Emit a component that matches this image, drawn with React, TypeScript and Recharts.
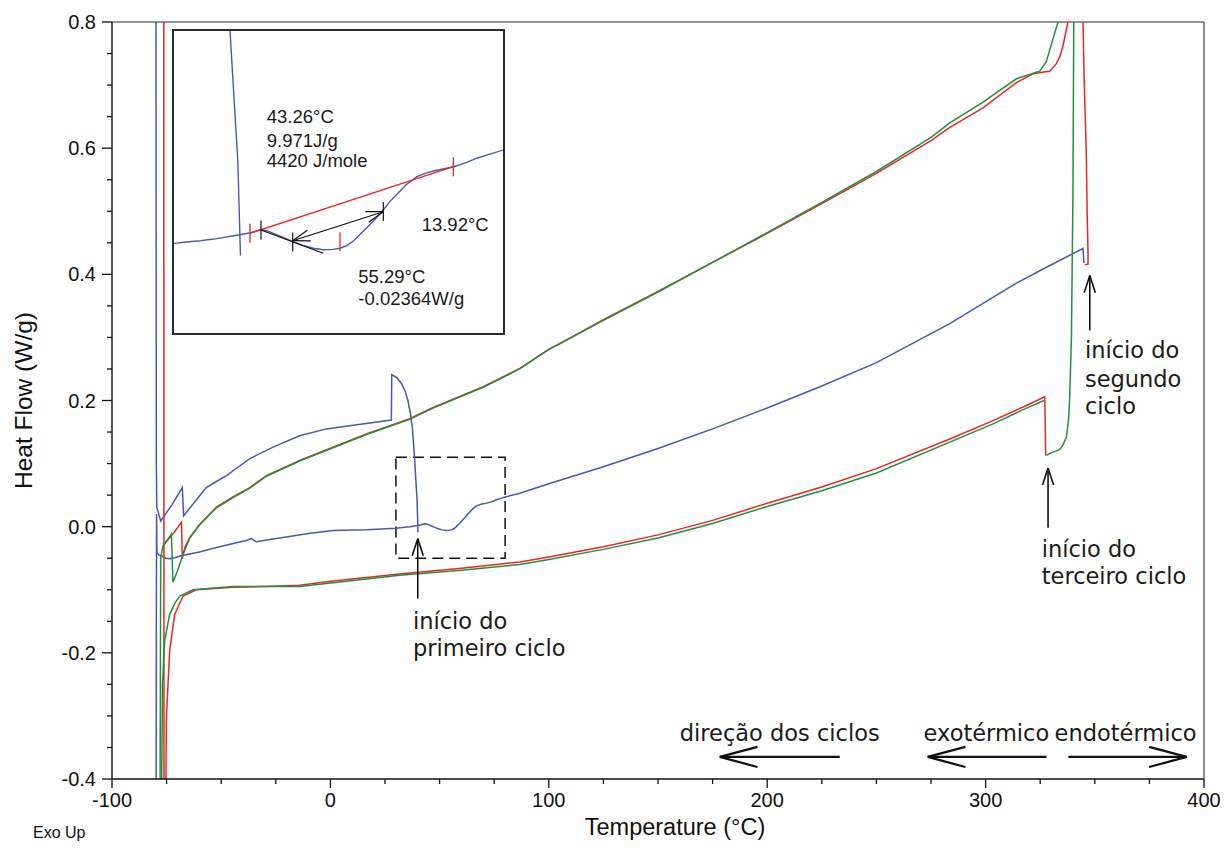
import React from 'react';
import { LineChart, Line, XAxis, YAxis, ReferenceLine, ReferenceArea, ReferenceDot, Label } from 'recharts';

const BLUE = '#4659b5';
const RED = '#ee2424';
const GREEN = '#23903c';
const SANS = '"Liberation Sans", Arial, sans-serif';
const NOTE_FONT = '"DejaVu Sans", Verdana, sans-serif';

const xTicks = [-100, -75, -50, -25, 0, 25, 50, 75, 100, 125, 150, 175, 200, 225, 250, 275, 300, 325, 350, 375, 400];
const xMajorTicks = [-100, 0, 100, 200, 300, 400];
const yTicks = [-0.4, -0.35, -0.3, -0.25, -0.2, -0.15, -0.1, -0.05, 0, 0.05, 0.1, 0.15, 0.2, 0.25, 0.3, 0.35, 0.4, 0.45, 0.5, 0.55, 0.6, 0.65, 0.7, 0.75, 0.8];
const yMajorTicks = [-0.4, -0.2, 0, 0.2, 0.4, 0.6, 0.8];

type P = { x: number; y: number };

// first cycle (blue): vertical at start, upper branch and its drop
const blueUpper: P[] = [
  { x: -79.9, y: 0.95 }, { x: -79.7, y: 0.1 }, { x: -79.5, y: 0.031 }, { x: -77.7, y: 0.009 },
  { x: -72.5, y: 0.035 }, { x: -67.8, y: 0.062 }, { x: -67.2, y: 0.017 }, { x: -62.0, y: 0.04 },
  { x: -56.8, y: 0.062 }, { x: -52.0, y: 0.072 }, { x: -47.6, y: 0.081 }, { x: -42.0, y: 0.095 },
  { x: -36.9, y: 0.108 }, { x: -26.3, y: 0.126 }, { x: -14.1, y: 0.144 }, { x: -1.8, y: 0.155 },
  { x: 8.8, y: 0.16 }, { x: 27.9, y: 0.169 }, { x: 28.1, y: 0.241 }, { x: 30.5, y: 0.236 },
  { x: 32.5, y: 0.227 }, { x: 34.2, y: 0.215 }, { x: 35.5, y: 0.2 }, { x: 36.6, y: 0.18 },
  { x: 37.5, y: 0.158 }, { x: 38.2, y: 0.125 }, { x: 38.6, y: 0.105 }, { x: 39.2, y: 0.07 },
  { x: 39.7, y: 0.041 }, { x: 40.1, y: -0.009 },
];

// first cycle (blue): lower branch
const blueLower: P[] = [
  { x: -79.8, y: -0.45 }, { x: -79.7, y: -0.15 }, { x: -79.6, y: 0.02 }, { x: -79.4, y: -0.04 },
  { x: -78.6, y: -0.045 }, { x: -77.4, y: -0.046 }, { x: -75.5, y: -0.05 }, { x: -73.6, y: -0.051 },
  { x: -71.0, y: -0.049 }, { x: -68.4, y: -0.046 }, { x: -60.0, y: -0.04 }, { x: -52.2, y: -0.033 },
  { x: -45.0, y: -0.027 }, { x: -38.5, y: -0.022 }, { x: -36.2, y: -0.019 }, { x: -33.9, y: -0.024 },
  { x: -27.0, y: -0.02 }, { x: -21.7, y: -0.017 }, { x: -10.0, y: -0.011 }, { x: 1.2, y: -0.006 },
  { x: 16.5, y: -0.005 }, { x: 30.0, y: -0.0025 }, { x: 31.9, y: -0.0018 }, { x: 34.0, y: -0.0011 },
  { x: 36.5, y: 0.0 }, { x: 39.8, y: 0.0019 }, { x: 41.6, y: 0.0031 }, { x: 43.1, y: 0.0046 },
  { x: 44.1, y: 0.0042 }, { x: 45.1, y: 0.0028 }, { x: 46.6, y: 0.0007 }, { x: 48.1, y: -0.0016 },
  { x: 49.7, y: -0.0037 }, { x: 51.2, y: -0.0051 }, { x: 52.7, y: -0.0059 }, { x: 54.2, y: -0.0057 },
  { x: 55.2, y: -0.0051 }, { x: 56.3, y: -0.0037 }, { x: 57.3, y: -0.0011 }, { x: 58.3, y: 0.0023 },
  { x: 59.3, y: 0.0058 }, { x: 60.3, y: 0.0093 }, { x: 61.8, y: 0.0152 }, { x: 62.8, y: 0.0196 },
  { x: 64.4, y: 0.0254 }, { x: 65.4, y: 0.0289 }, { x: 66.9, y: 0.0328 }, { x: 68.2, y: 0.0346 },
  { x: 69.4, y: 0.0358 }, { x: 70.9, y: 0.0369 }, { x: 72.5, y: 0.0381 }, { x: 74.5, y: 0.0404 },
  { x: 76.0, y: 0.0426 }, { x: 78.0, y: 0.0448 }, { x: 80.1, y: 0.047 }, { x: 86.7, y: 0.053 },
  { x: 100, y: 0.068 }, { x: 125, y: 0.095 }, { x: 150, y: 0.124 }, { x: 175, y: 0.155 },
  { x: 200, y: 0.188 }, { x: 225, y: 0.223 }, { x: 250, y: 0.26 }, { x: 283.6, y: 0.322 },
  { x: 314.1, y: 0.386 }, { x: 329.4, y: 0.414 }, { x: 344.6, y: 0.441 }, { x: 345.0, y: 0.418 },
];

// second cycle (red)
const redStart: P[] = [
  { x: 345.4, y: 0.415 }, { x: 346.9, y: 0.416 }, { x: 346.9, y: 0.432 }, { x: 346.5, y: 0.5 },
  { x: 346.1, y: 0.591 }, { x: 345.1, y: 0.713 }, { x: 344.6, y: 0.8 }, { x: 344.5, y: 0.9 },
];
const redUpper: P[] = [
  { x: 337.9, y: 0.9 }, { x: 337.7, y: 0.8 }, { x: 336.5, y: 0.78 }, { x: 335.4, y: 0.762 },
  { x: 334.0, y: 0.745 }, { x: 332.4, y: 0.734 }, { x: 329.4, y: 0.722 }, { x: 325.0, y: 0.72 },
  { x: 321.7, y: 0.718 }, { x: 314.1, y: 0.704 }, { x: 298.8, y: 0.664 }, { x: 283.6, y: 0.633 },
  { x: 275, y: 0.612 }, { x: 250, y: 0.56 }, { x: 225, y: 0.512 }, { x: 200, y: 0.465 },
  { x: 175, y: 0.419 }, { x: 150, y: 0.373 }, { x: 125, y: 0.328 }, { x: 105, y: 0.29 },
  { x: 100, y: 0.281 }, { x: 86.7, y: 0.251 }, { x: 70, y: 0.222 }, { x: 47, y: 0.189 },
  { x: 36.3, y: 0.171 }, { x: 16.5, y: 0.147 }, { x: 1.2, y: 0.126 }, { x: -14.1, y: 0.105 },
  { x: -29.3, y: 0.081 }, { x: -36.9, y: 0.062 }, { x: -44.6, y: 0.047 }, { x: -52.2, y: 0.031 },
  { x: -59.8, y: 0.004 }, { x: -64.4, y: -0.017 }, { x: -66.5, y: -0.032 }, { x: -67.5, y: -0.045 },
  { x: -67.8, y: -0.051 }, { x: -68.2, y: 0.007 }, { x: -72.0, y: -0.011 }, { x: -75.9, y: -0.027 },
];
const redVertical: P[] = [{ x: -76.3, y: 0.95 }, { x: -76.2, y: -0.45 }];
const redLower: P[] = [
  { x: -75.4, y: -0.45 }, { x: -75.1, y: -0.303 }, { x: -73.6, y: -0.197 }, { x: -71.3, y: -0.139 },
  { x: -67.5, y: -0.11 }, { x: -61.4, y: -0.1 }, { x: -44.6, y: -0.096 }, { x: -30, y: -0.095 },
  { x: -14.1, y: -0.093 }, { x: 1.2, y: -0.086 }, { x: 31.7, y: -0.075 }, { x: 60, y: -0.066 },
  { x: 86.7, y: -0.056 }, { x: 100, y: -0.048 }, { x: 125, y: -0.032 }, { x: 150, y: -0.013 },
  { x: 175, y: 0.01 }, { x: 200, y: 0.037 }, { x: 225, y: 0.063 }, { x: 250, y: 0.092 },
  { x: 283.6, y: 0.139 }, { x: 303.4, y: 0.168 }, { x: 318.7, y: 0.192 }, { x: 327.1, y: 0.206 },
  { x: 327.5, y: 0.114 }, { x: 327.8, y: 0.113 },
];

// third cycle (green)
const greenStart: P[] = [
  { x: 327.8, y: 0.113 }, { x: 330, y: 0.117 }, { x: 333.9, y: 0.122 }, { x: 335.5, y: 0.13 },
  { x: 337.0, y: 0.142 }, { x: 338.0, y: 0.17 }, { x: 338.5, y: 0.205 }, { x: 339.3, y: 0.3 },
  { x: 340.0, y: 0.53 }, { x: 340.5, y: 0.9 },
];
const greenUpper: P[] = [
  { x: 333.5, y: 0.9 }, { x: 333.2, y: 0.8 }, { x: 330.9, y: 0.774 }, { x: 327.8, y: 0.737 },
  { x: 324.8, y: 0.722 }, { x: 314.1, y: 0.71 }, { x: 298.8, y: 0.673 }, { x: 283.6, y: 0.64 },
  { x: 275, y: 0.617 }, { x: 250, y: 0.563 }, { x: 225, y: 0.514 }, { x: 200, y: 0.466 },
  { x: 175, y: 0.419 }, { x: 150, y: 0.372 }, { x: 125, y: 0.327 }, { x: 100, y: 0.281 },
  { x: 86.7, y: 0.25 }, { x: 70, y: 0.221 }, { x: 47, y: 0.188 }, { x: 36.3, y: 0.17 },
  { x: 16.5, y: 0.146 }, { x: 1.2, y: 0.125 }, { x: -14.1, y: 0.104 }, { x: -29.3, y: 0.08 },
  { x: -36.9, y: 0.061 }, { x: -44.6, y: 0.046 }, { x: -52.2, y: 0.03 }, { x: -59.8, y: 0.003 },
  { x: -64.4, y: -0.018 }, { x: -67.5, y: -0.044 }, { x: -70.0, y: -0.07 }, { x: -72.1, y: -0.088 },
  { x: -72.8, y: -0.012 }, { x: -76.6, y: -0.03 }, { x: -77.7, y: -0.049 }, { x: -78.0, y: -0.45 },
];
const greenLower: P[] = [
  { x: -77.4, y: -0.45 }, { x: -77.0, y: -0.3 }, { x: -76.9, y: -0.249 }, { x: -75.9, y: -0.181 },
  { x: -73.6, y: -0.139 }, { x: -71.0, y: -0.12 }, { x: -69.0, y: -0.11 }, { x: -62.9, y: -0.1 },
  { x: -44.6, y: -0.095 }, { x: -14.1, y: -0.095 }, { x: 1.2, y: -0.089 }, { x: 31.7, y: -0.077 },
  { x: 60, y: -0.069 }, { x: 86.7, y: -0.06 }, { x: 100, y: -0.052 }, { x: 125, y: -0.036 },
  { x: 150, y: -0.018 }, { x: 175, y: 0.005 }, { x: 200, y: 0.032 }, { x: 225, y: 0.057 },
  { x: 250, y: 0.085 }, { x: 283.6, y: 0.134 }, { x: 303.4, y: 0.163 }, { x: 318.7, y: 0.188 },
  { x: 326.8, y: 0.2 },
];

// annotations of the main chart (data coordinates)
const mainNotes = [
  { x: 37.8, y: -0.162, text: 'início do' },
  { x: 37.8, y: -0.205, text: 'primeiro ciclo' },
  { x: 345.5, y: 0.267, text: 'início do' },
  { x: 345.5, y: 0.222, text: 'segundo' },
  { x: 345.5, y: 0.179, text: 'ciclo' },
  { x: 325.7, y: -0.0476, text: 'início do' },
  { x: 325.7, y: -0.0905, text: 'terceiro ciclo' },
  { x: 160.0, y: -0.339, text: 'direção dos ciclos' },
  { x: 271.6, y: -0.339, text: 'exotérmico' },
  { x: 331.6, y: -0.339, text: 'endotérmico' },
];
// arrows: from tail to tip
const verticalArrows = [
  { from: { x: 40.0, y: -0.114 }, to: { x: 40.0, y: -0.019 } },
  { from: { x: 347.7, y: 0.311 }, to: { x: 347.7, y: 0.398 } },
  { from: { x: 328.6, y: -0.0016 }, to: { x: 328.6, y: 0.093 } },
];
const directionArrows = [
  { from: { x: 233.2, y: -0.365 }, to: { x: 178.3, y: -0.365 } },
  { from: { x: 327.9, y: -0.365 }, to: { x: 273.5, y: -0.365 } },
  { from: { x: 337.9, y: -0.365 }, to: { x: 392.1, y: -0.365 } },
];
const zoomBox = { x1: 30, x2: 80, y1: -0.05, y2: 0.11 };

// inset annotations
const insetNotes = [
  { x: 44.09, y: 0.0611, text: '43.26°C' },
  { x: 44.09, y: 0.0487, text: '9.971J/g' },
  { x: 44.09, y: 0.0381, text: '4420 J/mole' },
  { x: 67.64, y: 0.0043, text: '13.92°C' },
  { x: 58.01, y: -0.0237, text: '55.29°C' },
  { x: 58.01, y: -0.0352, text: '-0.02364W/g' },
];
const insetBaseline: P[] = [{ x: 41.55, y: 0.0028 }, { x: 72.45, y: 0.0381 }];
const insetRedMarks: P[] = [{ x: 41.55, y: 0.0028 }, { x: 72.45, y: 0.0381 }, { x: 55.23, y: -0.0017 }];
const insetBlackMarks: P[] = [{ x: 43.22, y: 0.0046 }, { x: 48.04, y: -0.0018 }, { x: 61.81, y: 0.0144 }];
const insetTangent: P[] = [{ x: 43.22, y: 0.00457 }, { x: 52.69, y: -0.00777 }];
const insetSpan: P[] = [{ x: 48.04, y: -0.0011 }, { x: 61.81, y: 0.01426 }];

// geometry (page is 1225x850; wrapper is placed at the page origin)
const W = 1225, H = 850;
const MARGIN = { top: 22, right: 21, left: 8, bottom: 11 };
const Y_AXIS_W = 104, X_AXIS_H = 60;
const PLOT_W = W - MARGIN.left - MARGIN.right - Y_AXIS_W;
const PLOT_H = H - MARGIN.top - MARGIN.bottom - X_AXIS_H;
const KX = 500 / PLOT_W, KY = 1.2 / PLOT_H;
const INSET = { left: 174, top: 31, w: 329, h: 302 };
const IKX = 50 / INSET.w, IKY = 0.16 / INSET.h;

function arrowSegs(from: P, to: P, len: number, ang: number, kx: number, ky: number): P[][] {
  const dxp = (to.x - from.x) / kx;
  const dyp = -(to.y - from.y) / ky;
  const L = Math.hypot(dxp, dyp);
  const ux = -dxp / L, uy = -dyp / L;
  const a = (ang * Math.PI) / 180;
  const heads = [a, -a].map((t) => {
    const rx = ux * Math.cos(t) - uy * Math.sin(t);
    const ry = ux * Math.sin(t) + uy * Math.cos(t);
    return { x: to.x + rx * len * kx, y: to.y - ry * len * ky };
  });
  return [[from, to], [to, heads[0]], [to, heads[1]]];
}

const isMajor = (arr: number[], v: number) => arr.some((m) => Math.abs(m - v) < 1e-9);

const XTick = (props: any) => {
  const { x, y, payload } = props;
  const v = payload.value;
  const major = isMajor(xMajorTicks, v);
  return (
    <g>
      <line x1={x} x2={x} y1={y} y2={y + (major ? 9 : 5)} stroke="#111" strokeWidth={1.3} />
      {major && (
        <text x={x} y={y + 28} textAnchor="middle" fontSize={20} fontFamily={SANS} fill="#111">
          {String(v)}
        </text>
      )}
    </g>
  );
};

const YTick = (props: any) => {
  const { x, y, payload } = props;
  const v = payload.value;
  const major = isMajor(yMajorTicks, v);
  return (
    <g>
      <line x1={x - (major ? 10 : 5)} x2={x} y1={y} y2={y} stroke="#111" strokeWidth={1.3} />
      {major && (
        <text x={x - 16} y={y + 7} textAnchor="end" fontSize={20} fontFamily={SANS} fill="#111">
          {v.toFixed(1)}
        </text>
      )}
    </g>
  );
};

const textShape = (text: string, size: number, family: string) => (p: any) => (
  <text x={p.cx} y={p.cy} fontSize={size} fontFamily={family} fill="#1a1a1a">
    {text}
  </text>
);

const renderSegs = (segs: P[][], color: string, keyPrefix: string, width = 1.5) =>
  segs.map((s, i) => (
    <ReferenceLine
      key={`${keyPrefix}-${i}`}
      segment={[s[0], s[1]]}
      stroke={color}
      strokeWidth={width}
      ifOverflow="visible"
    />
  ));

export default function App() {
  const vSegs = verticalArrows.flatMap((a) => arrowSegs(a.from, a.to, 18, 18, KX, KY));
  const dSegs = directionArrows.flatMap((a) => arrowSegs(a.from, a.to, 39, 15, KX, KY));
  const spanSegs = [
    ...arrowSegs(insetSpan[0], insetSpan[1], 18, 18, IKX, IKY),
    ...arrowSegs(insetSpan[1], insetSpan[0], 18, 18, IKX, IKY).slice(1),
  ];
  const redMarkSegs = insetRedMarks.map((m) => [
    { x: m.x, y: m.y + 9.5 * IKY },
    { x: m.x, y: m.y - 9.5 * IKY },
  ]);
  const blackMarkSegs = insetBlackMarks.map((m) => [
    { x: m.x, y: m.y + 9.5 * IKY },
    { x: m.x, y: m.y - 9.5 * IKY },
  ]);

  const series: { data: P[]; color: string }[] = [
    { data: blueUpper, color: BLUE },
    { data: blueLower, color: BLUE },
    { data: redStart, color: RED },
    { data: redUpper, color: RED },
    { data: redVertical, color: RED },
    { data: redLower, color: RED },
    { data: greenStart, color: GREEN },
    { data: greenUpper, color: GREEN },
    { data: greenLower, color: GREEN },
  ];

  return (
    <div style={{ position: 'absolute', left: 0, top: 0, width: W, height: H, background: '#fff' }}>
      <LineChart width={W} height={H} margin={MARGIN}>
        <XAxis
          type="number"
          dataKey="x"
          domain={[-100, 400]}
          ticks={xTicks}
          interval={0}
          allowDataOverflow
          height={X_AXIS_H}
          axisLine={{ stroke: '#111', strokeWidth: 1.4 }}
          tickLine={false}
          tickSize={0}
          tickMargin={0}
          tick={<XTick />}
          label={
            <Label
              content={(p: any) => {
                const vb = p.viewBox || {};
                return (
                  <g>
                    <text
                      x={vb.x + vb.width / 2 + 17}
                      y={vb.y + 56}
                      textAnchor="middle"
                      fontSize={23.5}
                      fontFamily={SANS}
                      fill="#111"
                    >
                      Temperature (°C)
                    </text>
                    <text x={vb.x - 79} y={vb.y + 59} fontSize={16} fontFamily={SANS} fill="#111">
                      Exo Up
                    </text>
                  </g>
                );
              }}
            />
          }
        />
        <YAxis
          type="number"
          domain={[-0.4, 0.8]}
          ticks={yTicks}
          interval={0}
          allowDataOverflow
          width={Y_AXIS_W}
          axisLine={{ stroke: '#111', strokeWidth: 1.4 }}
          tickLine={false}
          tickSize={0}
          tickMargin={0}
          tick={<YTick />}
          label={
            <Label
              content={(p: any) => {
                const vb = p.viewBox || {};
                const cx = vb.x + 23.5;
                const cy = vb.y + vb.height / 2;
                return (
                  <text
                    x={cx}
                    y={cy}
                    transform={`rotate(-90 ${cx} ${cy})`}
                    textAnchor="middle"
                    fontSize={24.5}
                    fontFamily={SANS}
                    fill="#111"
                  >
                    Heat Flow (W/g)
                  </text>
                );
              }}
            />
          }
        />
        <ReferenceLine y={0.8} stroke="#707070" strokeWidth={1.6} />
        <ReferenceLine x={400} stroke="#707070" strokeWidth={1.6} />
        {series.map((s, i) => (
          <Line
            key={`s-${i}`}
            data={s.data}
            dataKey="y"
            type="linear"
            stroke={s.color}
            strokeWidth={1.5}
            dot={false}
            activeDot={false}
            isAnimationActive={false}
          />
        ))}
        <ReferenceArea
          x1={zoomBox.x1}
          x2={zoomBox.x2}
          y1={zoomBox.y1}
          y2={zoomBox.y2}
          fill="none"
          fillOpacity={0}
          stroke="#111"
          strokeWidth={1.5}
          strokeDasharray="11 6"
          ifOverflow="visible"
        />
        {renderSegs(vSegs, '#111', 'va', 1.6)}
        {renderSegs(dSegs, '#111', 'da', 2.2)}
        {mainNotes.map((n, i) => (
          <ReferenceDot
            key={`mn-${i}`}
            x={n.x}
            y={n.y}
            r={0}
            ifOverflow="visible"
            shape={textShape(n.text, 22.5, NOTE_FONT)}
          />
        ))}
      </LineChart>

      <div
        style={{
          position: 'absolute',
          left: INSET.left,
          top: INSET.top,
          width: INSET.w,
          height: INSET.h,
          background: '#fff',
          outline: '2px solid #2a2a2a',
        }}
      >
        <LineChart width={INSET.w} height={INSET.h} margin={{ top: 0, right: 0, left: 0, bottom: 0 }}>
          <XAxis type="number" dataKey="x" domain={[30, 80]} allowDataOverflow hide />
          <YAxis type="number" domain={[-0.05, 0.11]} allowDataOverflow hide />
          <Line data={blueUpper} dataKey="y" type="linear" stroke={BLUE} strokeWidth={1.4} dot={false} activeDot={false} isAnimationActive={false} />
          <Line data={blueLower} dataKey="y" type="linear" stroke={BLUE} strokeWidth={1.4} dot={false} activeDot={false} isAnimationActive={false} />
          {renderSegs([insetBaseline], RED, 'ib', 1.3)}
          {renderSegs(redMarkSegs, RED, 'irm', 1.3)}
          {renderSegs(blackMarkSegs, '#111', 'ibm', 1.2)}
          {renderSegs([insetTangent], '#111', 'it', 1.2)}
          {renderSegs(spanSegs, '#111', 'isp', 1.2)}
          {insetNotes.map((n, i) => (
            <ReferenceDot
              key={`in-${i}`}
              x={n.x}
              y={n.y}
              r={0}
              ifOverflow="visible"
              shape={textShape(n.text, 18.5, SANS)}
            />
          ))}
        </LineChart>
      </div>
    </div>
  );
}
